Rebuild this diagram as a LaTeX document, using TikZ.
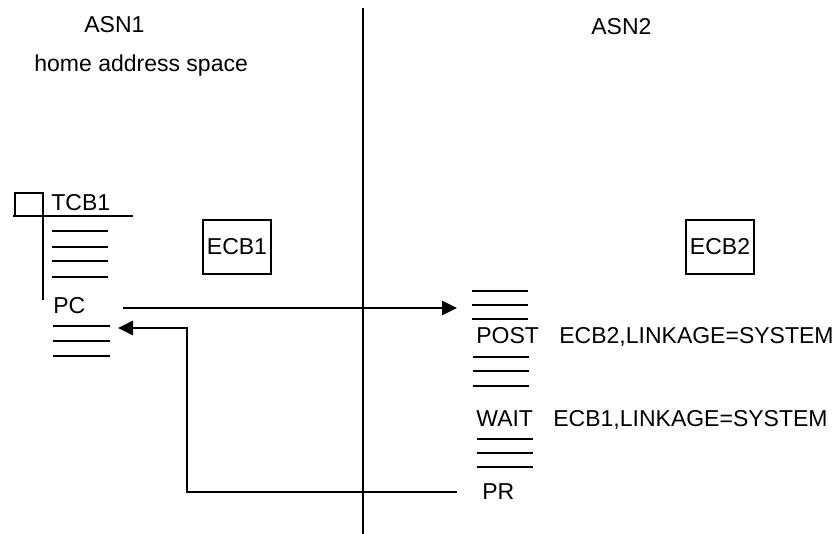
\documentclass[tikz,border=0pt]{standalone}
\usepackage{fontspec}
\setmainfont{Liberation Sans}
\usetikzlibrary{arrows.meta}

\begin{document}
\begin{tikzpicture}[x=0.5pt,y=-0.5pt,line width=1.4pt,
		txt/.style={inner sep=0pt,anchor=base west,font=\fontsize{11.5}{13}\selectfont},
		ecb/.style={draw,inner sep=0pt,minimum width=34pt,minimum height=27pt,font=\fontsize{11.5}{13}\selectfont},
		>={Triangle[length=7.5pt,width=7pt]}]
		\useasboundingbox (0,0) rectangle (836,534);
		% address spaces
		\node[txt] (asnA) at (83,33) {ASN1};
		\node[txt] (home) at (33,72) {home address space};
		\node[txt] (asnB) at (590,35) {ASN2};
		\coordinate (divTop) at (363,8);
		\coordinate (divBot) at (363,534);
		\draw (divTop) -- (divBot);
		%
		% TCB1 and the calling program
		\draw (15,193) rectangle (43,216);
		\draw (13,216) -- (133,216);
		\draw (43,216) -- (43,300);
		\node[txt] (tcb) at (50,211) {TCB1};
		\foreach \y in {231,247,261,277} \draw (52,\y) -- (108,\y);
		\node[txt] (pc) at (52,314) {PC};
		\foreach \y in {326,341,356} \draw (53,\y) -- (110,\y);
		%
		% event control blocks
		\node[ecb] (ecbA) at (237,247) {ECB1};
		\node[ecb] (ecbB) at (720,247) {ECB2};
		%
		% the called program
		\foreach \y in {291,305,319} \draw (472,\y) -- (528,\y);
		\node[txt] (post) at (475,344) {POST};
		\node[txt] (postArg) at (558,344) {ECB2,LINKAGE=SYSTEM};
		\foreach \y in {357,371,386} \draw (473,\y) -- (529,\y);
		\node[txt] (wait) at (475,427) {WAIT};
		\node[txt] (waitArg) at (552,427) {ECB1,LINKAGE=SYSTEM};
		\foreach \y in {439,453,467} \draw (477,\y) -- (533,\y);
		\node[txt] (pr) at (481,499) {PR};
		%
		\coordinate (callOut) at (123,308);
		\coordinate (callIn) at (457,308);
		\coordinate (retOut) at (457,492);
		\coordinate (retBend) at (187,492);
		\coordinate (retIn) at (118,328);
		\path[->]
		% call and return
		(callOut) edge (callIn);
		\draw[->] (retOut) -- (retBend) |- (retIn);
		\end{tikzpicture}
\end{document}
